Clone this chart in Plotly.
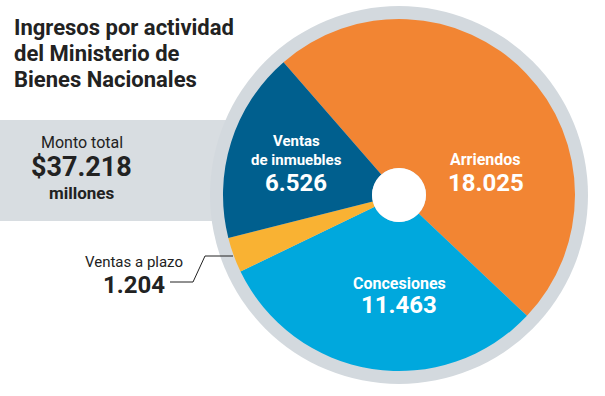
import plotly.graph_objects as go

# ---- data ----
categories = ["Arriendos", "Concesiones", "Ventas a plazo", "Ventas de inmuebles"]
label_lines = [["Arriendos"], ["Concesiones"], ["Ventas a plazo"], ["Ventas", "de inmuebles"]]
values = [18025, 11463, 1204, 6526]
value_labels = ["18.025", "11.463", "1.204", "6.526"]
total_label = "$37.218"
title_lines = ["Ingresos por actividad", "del Ministerio de", "Bienes Nacionales"]

colors = ["#F28533", "#00A8DD", "#F9B233", "#005F8E"]

W, H = 605, 396
def px(x):
    return x / W
def py(y):
    return 1 - y / H

cx, cy, r, ring, hole_r = 399, 195, 176, 189, 27

FONT = "Roboto, Arial, sans-serif"

fig = go.Figure(go.Pie(
    labels=categories, values=values, sort=False, direction="clockwise",
    rotation=-41, hole=hole_r / r,
    marker=dict(colors=colors, line=dict(width=0)),
    textinfo="none", hoverinfo="label+value", showlegend=False,
    domain=dict(x=[px(cx - r), px(cx + r)], y=[py(cy + r), py(cy - r)]),
))

shapes = [
    dict(type="rect", xref="paper", yref="paper", x0=0, x1=px(cx), y0=py(221), y1=py(120),
         fillcolor="#D8DDE1", line=dict(width=0), layer="below"),
    dict(type="circle", xref="paper", yref="paper", x0=px(cx - ring), x1=px(cx + ring),
         y0=py(cy + ring), y1=py(cy - ring), fillcolor="#D3D9DE", line=dict(width=0), layer="below"),
    dict(type="circle", xref="paper", yref="paper", x0=px(cx - hole_r), x1=px(cx + hole_r),
         y0=py(cy + hole_r), y1=py(cy - hole_r), fillcolor="white", line=dict(width=0), layer="above"),
    dict(type="path", xref="paper", yref="paper",
         path=f"M {px(170)} {py(282)} L {px(193)} {py(282)} L {px(205)} {py(256)} L {px(233)} {py(256)}",
         line=dict(color="#222222", width=1)),
]

ann = []
def add(text, x, y, size, color="#222222", xanchor="center"):
    ann.append(dict(text=text, x=px(x), y=py(y), xref="paper", yref="paper", showarrow=False,
                    xanchor=xanchor, yanchor="middle", font=dict(size=size, family=FONT, color=color)))

# title
for i, t in enumerate(title_lines):
    add(f"<b>{t}</b>", 12, 27.5 + i * 26, 22, xanchor="left")

# total
add("Monto total", 82, 142, 16)
add(f"<b>{total_label}</b>", 82, 167, 27)
add("<b>millones</b>", 82, 193, 17)

# slice labels
add(f"<b>{label_lines[0][0]}</b>", 486, 160, 16, "white")
add(f"<b>{value_labels[0]}</b>", 486, 183, 24, "white")
add(f"<b>{label_lines[1][0]}</b>", 399, 283, 16, "white")
add(f"<b>{value_labels[1]}</b>", 399, 305, 24, "white")
add(f"<b>{label_lines[3][0]}</b>", 296, 141, 15, "white")
add(f"<b>{label_lines[3][1]}</b>", 296, 160, 15, "white")
add(f"<b>{value_labels[3]}</b>", 296, 183, 24, "white")
add(label_lines[2][0], 134, 262, 15)
add(f"<b>{value_labels[2]}</b>", 134, 285, 24)

fig.update_layout(width=W, height=H, margin=dict(l=0, r=0, t=0, b=0),
                  paper_bgcolor="white", plot_bgcolor="white",
                  shapes=shapes, annotations=ann)
fig.write_html("out.html", config={"displayModeBar": False},
               post_script="document.body.style.margin='0';")
